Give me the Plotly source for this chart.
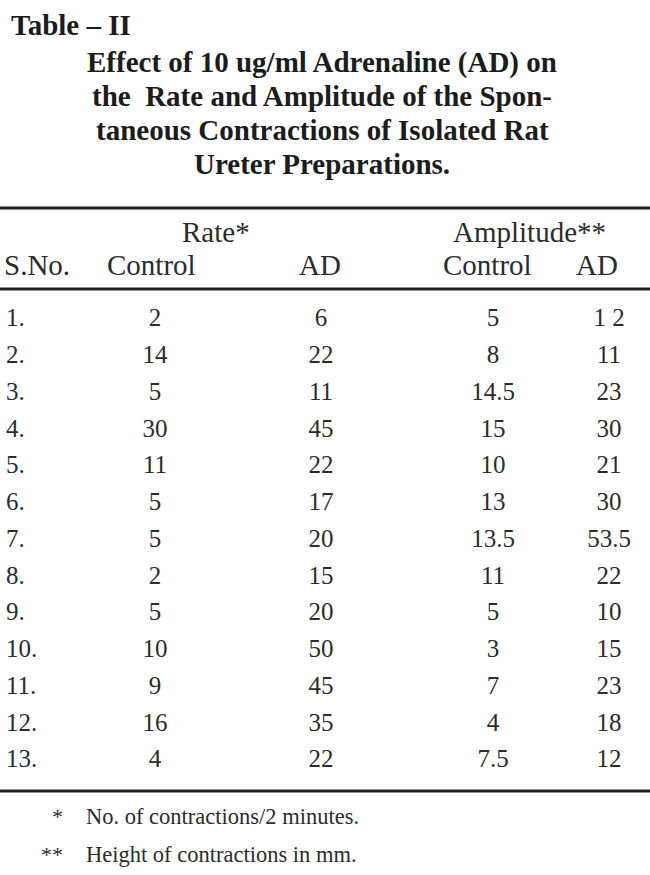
import plotly.graph_objects as go

# ---- data ----
serial = ["1.", "2.", "3.", "4.", "5.", "6.", "7.", "8.", "9.", "10.", "11.", "12.", "13."]
rate_control = ["2", "14", "5", "30", "11", "5", "5", "2", "5", "10", "9", "16", "4"]
rate_ad = ["6", "22", "11", "45", "22", "17", "20", "15", "20", "50", "45", "35", "22"]
amp_control = ["5", "8", "14.5", "15", "10", "13", "13.5", "11", "5", "3", "7", "4", "7.5"]
amp_ad = ["1 2", "11", "23", "30", "21", "30", "53.5", "22", "10", "15", "23", "18", "12"]

table_label = "Table \u2013 II"
title_lines = [
    "Effect of 10 ug/ml Adrenaline (AD) on",
    "the  Rate and Amplitude of the Spon-",
    "taneous Contractions of Isolated Rat",
    "Ureter Preparations.",
]
group_headers = ["Rate*", "Amplitude**"]
col_headers = ["S.No.", "Control", "AD", "Control", "AD"]
footnote_marks = ["*", "**"]
footnote_texts = ["No. of contractions/2 minutes.", "Height of contractions in mm."]

# ---- layout constants ----
W, H = 650, 875
FONT = "Liberation Serif"
INK = "#2c2c2c"
DARK = "#1c1c1c"
BODY = 25
HEAD = 29
row_y0, row_step = 320, 36.75
col_x = {"sno": 6, "rc": 155, "ra": 321, "ac": 493, "aa": 609}

fig = go.Figure()

rows_y = [row_y0 + i * row_step for i in range(len(serial))]

def text_col(x, texts, pos):
    fig.add_trace(go.Scatter(
        x=[x] * len(texts), y=rows_y, text=texts, mode="text",
        textposition=pos, hoverinfo="skip", showlegend=False,
        textfont=dict(family=FONT, size=BODY, color=INK),
    ))

text_col(col_x["sno"], serial, "middle right")
text_col(col_x["rc"], rate_control, "middle center")
text_col(col_x["ra"], rate_ad, "middle center")
text_col(col_x["ac"], amp_control, "middle center")
text_col(col_x["aa"], amp_ad, "middle center")

ann = []
ann.append(dict(x=9, y=25, text="<b>" + table_label + "</b>", xanchor="left", yanchor="middle",
                font=dict(family=FONT, size=29, color=DARK)))
for i, line in enumerate(title_lines):
    ann.append(dict(x=322, y=62 + i * 34, text="<b>" + line + "</b>", xanchor="center",
                    yanchor="middle", font=dict(family=FONT, size=29, color=DARK)))
ann.append(dict(x=216, y=232, text=group_headers[0], xanchor="center", yanchor="middle",
                font=dict(family=FONT, size=HEAD, color=INK)))
ann.append(dict(x=529, y=232, text=group_headers[1], xanchor="center", yanchor="middle",
                font=dict(family=FONT, size=HEAD, color=INK)))
hdr_x = [(2, "left"), (151, "center"), (320, "center"), (487, "center"), (597, "center")]
for (x, anc), t in zip(hdr_x, col_headers):
    ann.append(dict(x=x, y=265, text=t, xanchor=anc, yanchor="middle",
                    font=dict(family=FONT, size=HEAD, color=INK)))
for i, (m, t) in enumerate(zip(footnote_marks, footnote_texts)):
    yy = 816 + i * 38
    ann.append(dict(x=65, y=yy, text=m, xanchor="right", yanchor="middle",
                    font=dict(family=FONT, size=22, color=INK)))
    ann.append(dict(x=84, y=yy, text=t, xanchor="left", yanchor="middle",
                    font=dict(family=FONT, size=22.5, color=INK)))
for a in ann:
    a.update(xref="x", yref="y", showarrow=False)

shapes = []
for yy in (208, 289, 791):
    shapes.append(dict(type="line", xref="x", yref="y", x0=0, x1=650, y0=yy, y1=yy,
                       line=dict(color="#1e1e1e", width=2.8)))

fig.update_layout(
    width=W, height=H, margin=dict(l=0, r=0, t=0, b=0),
    paper_bgcolor="white", plot_bgcolor="white",
    xaxis=dict(range=[0, W], visible=False, fixedrange=True),
    yaxis=dict(range=[H, 0], visible=False, fixedrange=True),
    annotations=ann, shapes=shapes, showlegend=False,
)

fig.write_html(
    "out.html",
    config={"displayModeBar": False},
    post_script="document.body.style.margin='0';document.body.style.overflow='hidden';",
)
